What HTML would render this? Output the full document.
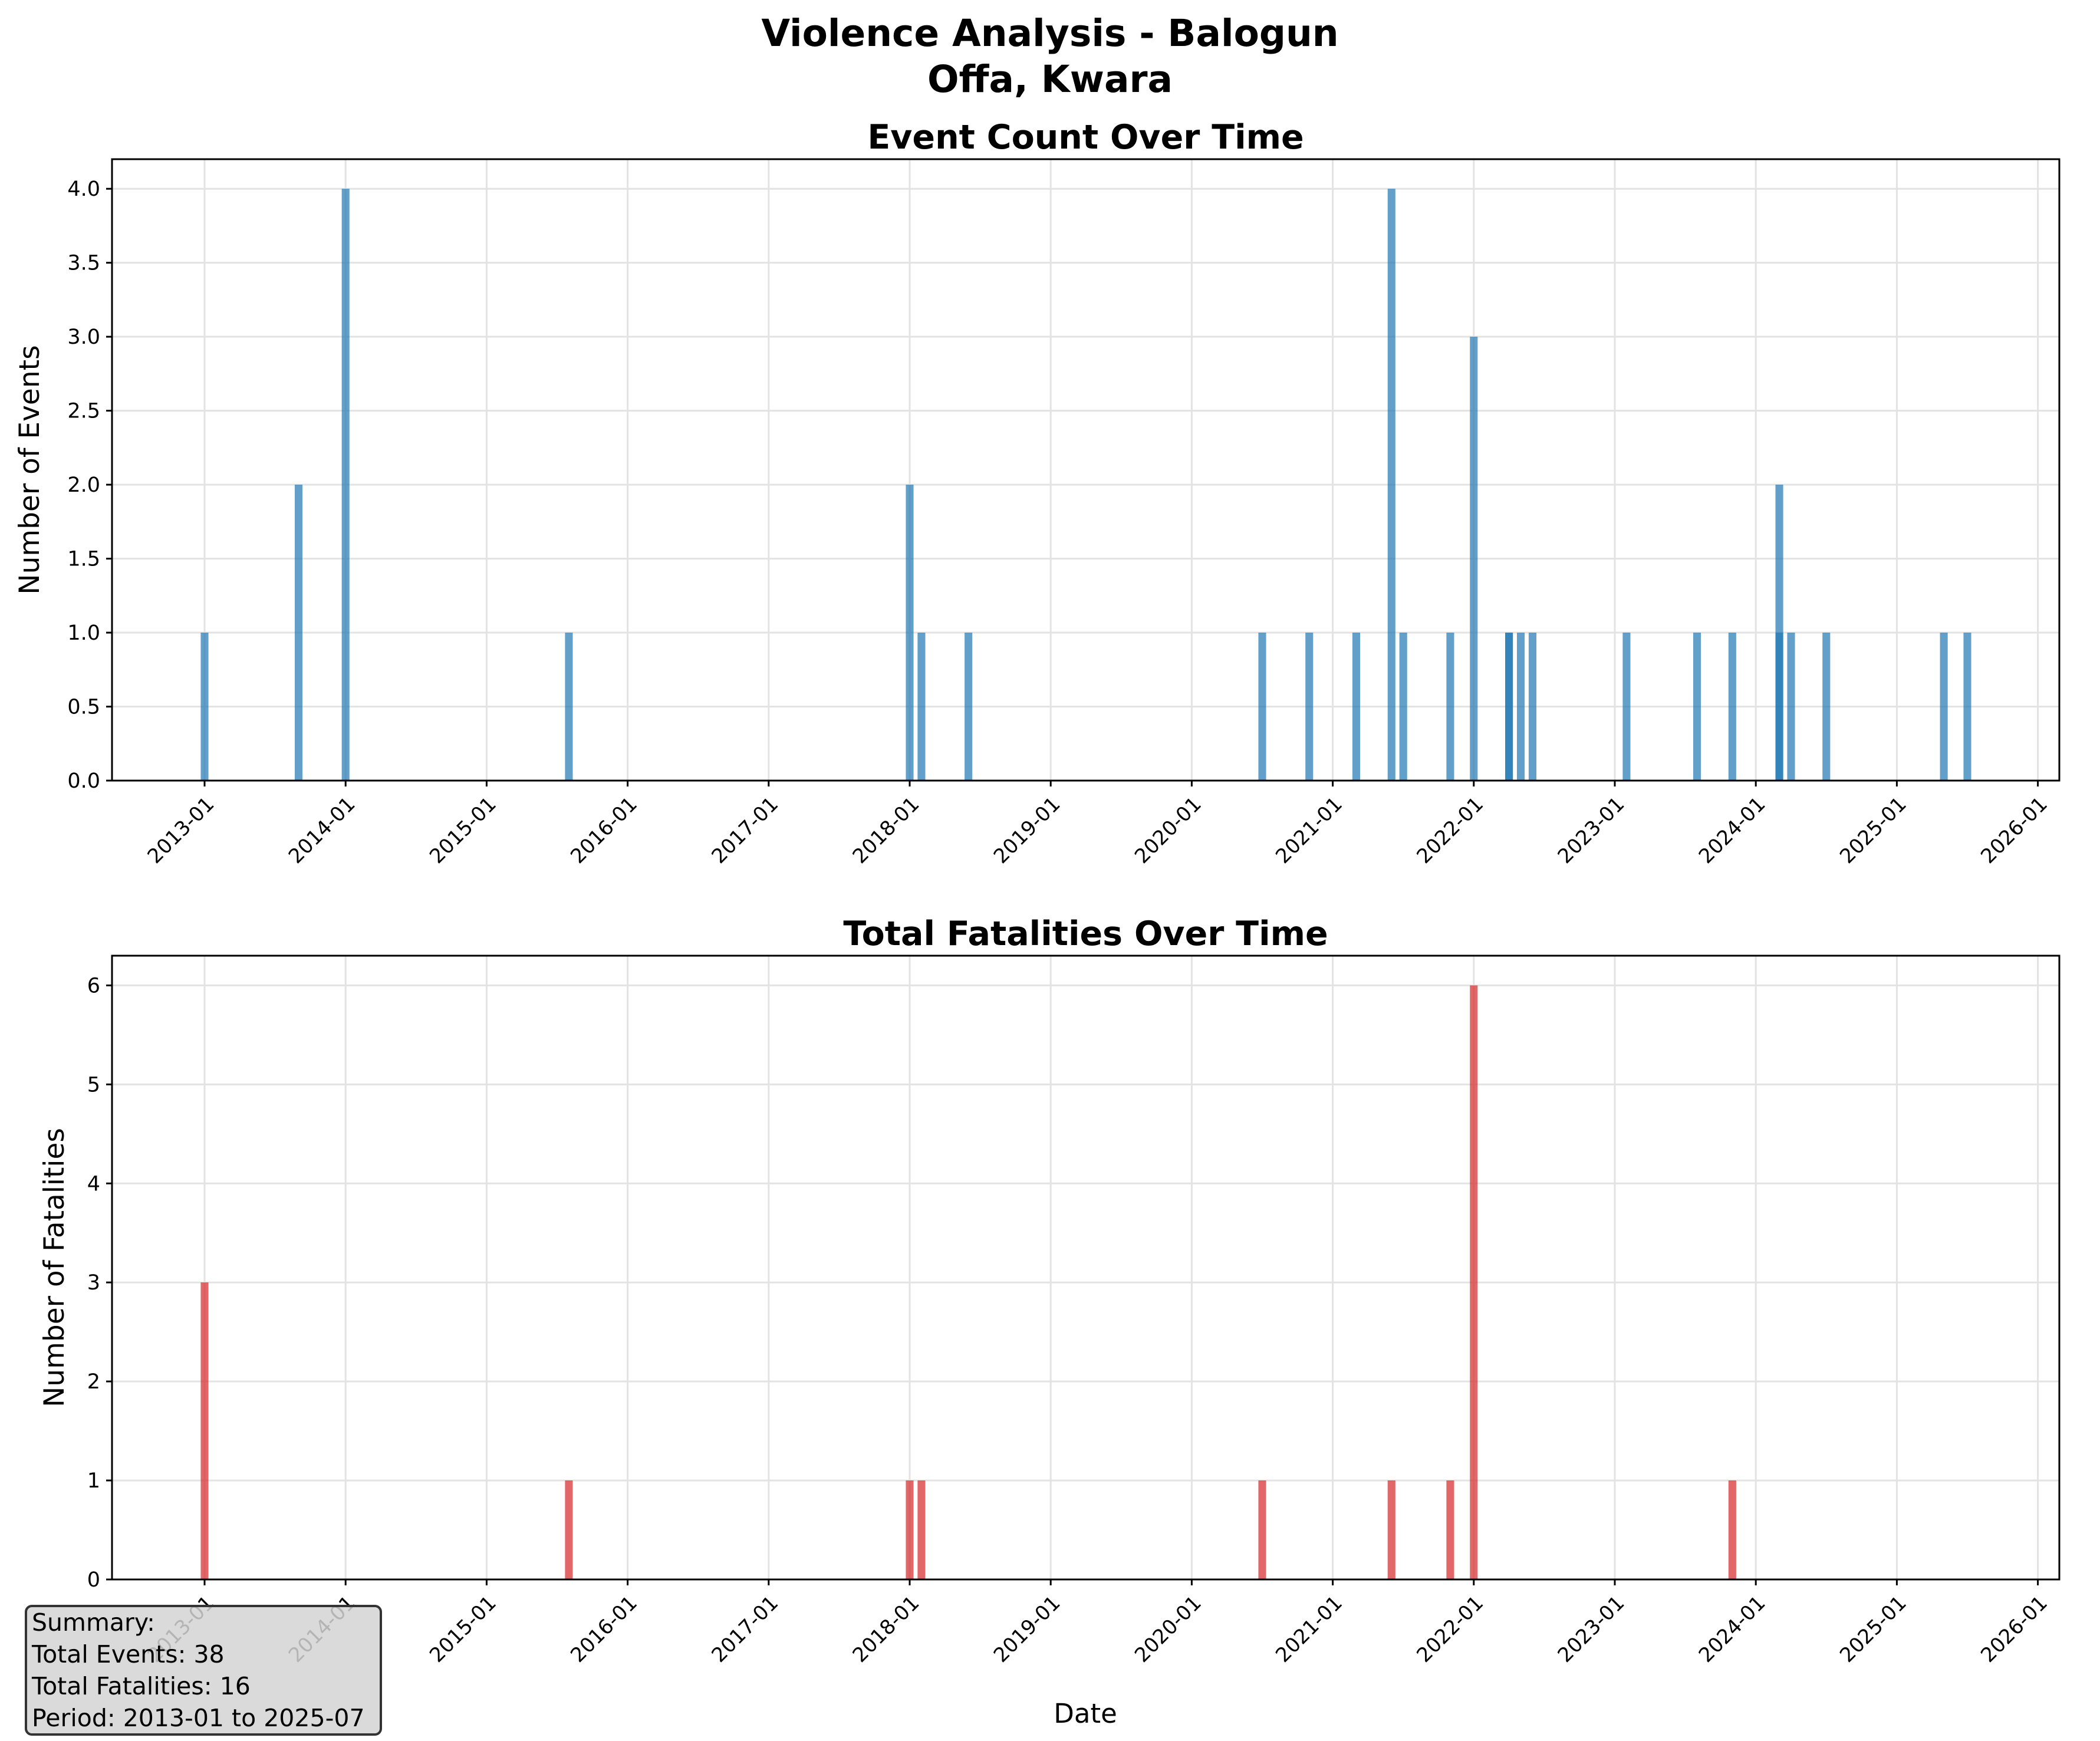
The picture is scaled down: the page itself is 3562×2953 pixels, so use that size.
<!DOCTYPE html>
<html><head><meta charset="utf-8"><style>
html,body{margin:0;padding:0;background:#fff;}
svg{display:block;font-family:"DejaVu Sans","Liberation Sans",sans-serif;}
</style></head><body>
<svg id="fig" width="3562" height="2953" viewBox="0 0 3562 2953" xmlns="http://www.w3.org/2000/svg">
<rect x="0" y="0" width="3562" height="2953" fill="#fff"/>
<text x="1781" y="78" text-anchor="middle" font-size="63" font-weight="bold">Violence Analysis - Balogun</text>
<text x="1781" y="156" text-anchor="middle" font-size="63" font-weight="bold">Offa, Kwara</text>
<g id="top"></g>
<g id="bot"></g>
</svg>
<script>
// Data (month keys "YYYY-MM"); duplicate months drawn as overlapping bars
const eventMonths = ["2013-01","2013-09","2014-01","2015-08","2018-01","2018-02","2018-06","2020-07","2020-11","2021-03","2021-06","2021-07","2021-11","2022-01","2022-04","2022-04","2022-05","2022-06","2023-02","2023-08","2023-11","2024-03","2024-03","2024-04","2024-07","2025-05","2025-07"];
const eventCounts = [1,2,4,1,2,1,1,1,1,1,4,1,1,3,1,1,1,1,1,1,1,2,1,1,1,1,1];
const fatalMonths = ["2013-01","2015-08","2018-01","2018-02","2020-07","2021-06","2021-11","2022-01","2023-11"];
const fatalCounts = [3,1,1,1,1,1,1,6,1];
const xTickYears = [2013,2014,2015,2016,2017,2018,2019,2020,2021,2022,2023,2024,2025,2026];
const topYTicks = [0,0.5,1,1.5,2,2.5,3,3.5,4];
const botYTicks = [0,1,2,3,4,5,6];

const NS="http://www.w3.org/2000/svg";
const X0=190, X1=3493, YEAR0=2013, T0X=347, YPX=239.2;
function xOfYM(y,m){return T0X+((y-YEAR0)+(m-1)/12)*YPX;}
function xOfKey(k){const p=k.split("-");return xOfYM(+p[0],+p[1]);}
function mk(tag,attrs,parent){const e=document.createElementNS(NS,tag);for(const k in attrs)e.setAttribute(k,attrs[k]);parent.appendChild(e);return e;}

function panel(g,top,bottom,ymax,yticks,fmt,months,vals,color,title,ylabel,ylabelX,xname){
  const yOf=v=>bottom-(v/ymax)*(bottom-top);
  for(const t of yticks){const l=mk("line",{x1:X0,x2:X1,y1:yOf(t),y2:yOf(t),stroke:"#e3e3e3","stroke-width":3},g);
    
    }
  for(const yr of xTickYears){const x=xOfYM(yr,1);const l=mk("line",{x1:x,x2:x,y1:top,y2:bottom,stroke:"#e3e3e3","stroke-width":3},g);
    
    }
  const bw=20/365*YPX;
  months.forEach((m,i)=>{const x=xOfKey(m);const r=mk("rect",{x:x-bw/2,y:yOf(vals[i]),width:bw,height:bottom-yOf(vals[i]),fill:color,"fill-opacity":0.7},g);
    
    });
  const fr=mk("rect",{x:X0,y:top,width:X1-X0,height:bottom-top,fill:"none",stroke:"#000","stroke-width":3},g);
  
  
  for(const t of yticks){const y=yOf(t);
    mk("line",{x1:X0-10,x2:X0,y1:y,y2:y,stroke:"#000","stroke-width":3},g);
    const tx=mk("text",{x:X0-20,y:y+12,"text-anchor":"end","font-size":35},g);tx.textContent=fmt(t);
    
    }
  for(const yr of xTickYears){const x=xOfYM(yr,1);
    mk("line",{x1:x,x2:x,y1:bottom,y2:bottom+10,stroke:"#000","stroke-width":3},g);
    const ax=x+18, ay=bottom+42;
    const tx=mk("text",{x:ax,y:ay,"text-anchor":"end","font-size":34,transform:`rotate(-45 ${ax} ${ay})`},g);tx.textContent=yr+"-01";
    
    }
  const tt=mk("text",{x:(X0+X1)/2,y:top-18,"text-anchor":"middle","font-size":57,"font-weight":"bold"},g);tt.textContent=title;
  
  
  const cy=(top+bottom)/2;
  const yl=mk("text",{x:ylabelX,y:cy,"text-anchor":"middle","font-size":47,transform:`rotate(-90 ${ylabelX} ${cy})`},g);yl.textContent=ylabel;
  
  
}
panel(document.getElementById("top"),270,1324,4.2,topYTicks,t=>t.toFixed(1),eventMonths,eventCounts,"#1f77b4","Event Count Over Time","Number of Events",66,"events");
panel(document.getElementById("bot"),1621,2679,6.3,botYTicks,t=>String(t),fatalMonths,fatalCounts,"#d62728","Total Fatalities Over Time","Number of Fatalities",108,"fatalities");

const svg=document.getElementById("fig");
const xl=mk("text",{x:1841,y:2922,"text-anchor":"middle","font-size":45},svg);xl.textContent="Date";


const sb=mk("g",{},svg);


mk("rect",{x:44,y:2724,width:602,height:218,rx:10,fill:"#d3d3d3","fill-opacity":0.85,stroke:"#333","stroke-width":4},sb);
const lines=["Summary:","Total Events: 38","Total Fatalities: 16","Period: 2013-01 to 2025-07"];
lines.forEach((s,i)=>{const t=mk("text",{x:54,y:2766+i*54,"font-size":41},sb);t.textContent=s;
  
  });
</script>
</body></html>
